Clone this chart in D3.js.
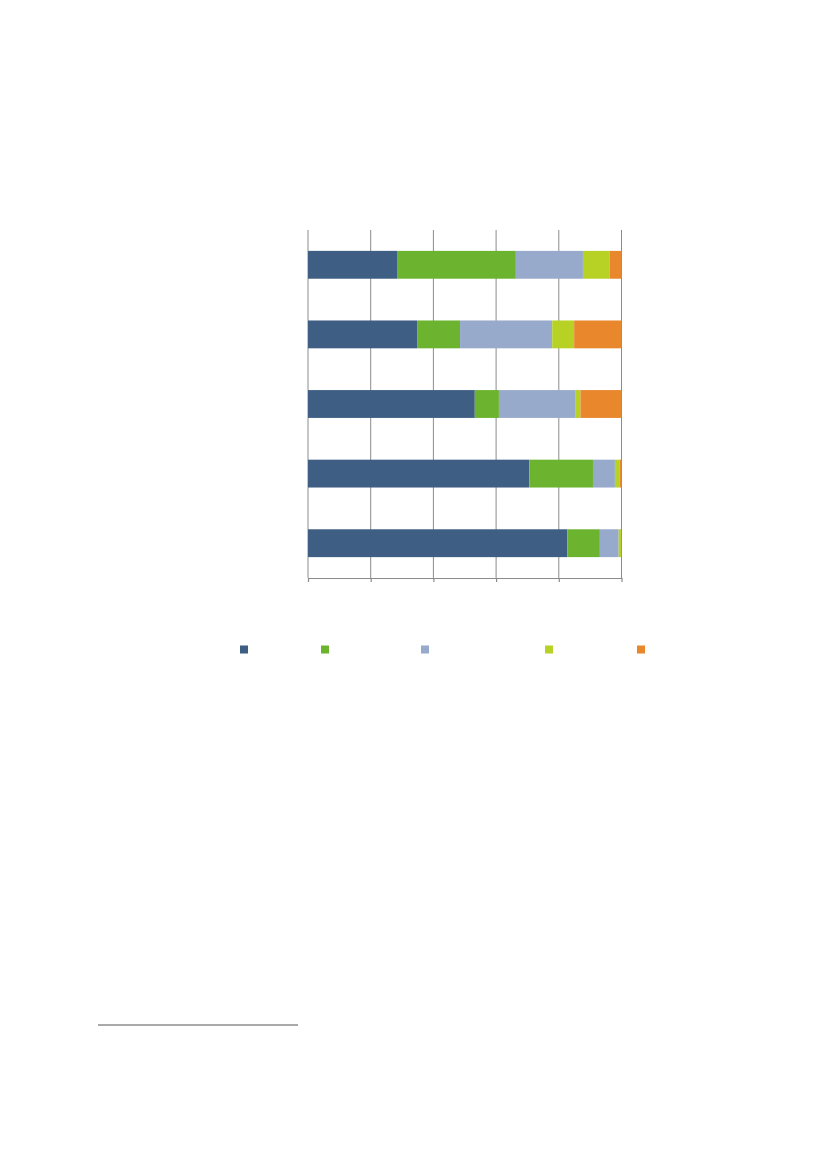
<!DOCTYPE html>
<html>
<head>
<meta charset="utf-8">
<script src="https://cdn.jsdelivr.net/npm/d3@7"></script>
<style>
  body { margin: 0; background: #fff; }
  svg { display: block; }
</style>
</head>
<body>
<div id="chart"></div>
<script>
// categories are not labelled in the picture, ids only
let categories = ["c1", "c2", "c3", "c4", "c5"];
let seriesKeys = ["s1", "s2", "s3", "s4", "s5"];
let colors = ["#3e5e84", "#6cb330", "#97aacb", "#b7d224", "#e8872c"];

// percentage share of each series per category
let s1 = [28.4, 34.8, 53.2, 70.6, 82.7];
let s2 = [37.9, 13.7, 7.7, 20.3, 10.4];
let s3 = [21.4, 29.4, 24.3, 7.0, 6.0];
let s4 = [8.5, 7.0, 1.7, 1.5, 0.8];
let s5 = [3.8, 15.1, 13.1, 0.6, 0.1];

let xTicks = [0, 20, 40, 60, 80, 100];

let svgWidth = 827;
let svgHeight = 1169;

let margin = { top: 230, left: 308 };
let width = 313.5;
let height = 348;

let svg = d3.select("#chart")
    .append("svg")
    .attr("width", svgWidth)
    .attr("height", svgHeight);

let chartGroup = svg.append("g")
    .attr("transform", `translate(${margin.left}, ${margin.top})`);

let rows = categories.map((c, i) => ({
    cat: c, s1: s1[i], s2: s2[i], s3: s3[i], s4: s4[i], s5: s5[i]
}));

let xScale = d3.scaleLinear().domain([0, 100]).range([0, width]);
let yScale = d3.scaleBand().domain(categories).range([0, height])
    .paddingInner(0.6).paddingOuter(0.3);
let color = d3.scaleOrdinal().domain(seriesKeys).range(colors);

// vertical gridlines
chartGroup.append("g")
    .selectAll("line")
    .data(xTicks)
    .enter()
    .append("line")
    .attr("x1", d => xScale(d))
    .attr("x2", d => xScale(d))
    .attr("y1", 0)
    .attr("y2", height)
    .attr("stroke", "#8c8c8c")
    .attr("stroke-width", 1);

let stacked = d3.stack().keys(seriesKeys)(rows);

chartGroup.append("g")
    .selectAll("g")
    .data(stacked)
    .enter()
    .append("g")
    .attr("fill", d => color(d.key))
    .selectAll("rect")
    .data(d => d)
    .enter()
    .append("rect")
    .attr("x", d => xScale(d[0]))
    .attr("width", d => xScale(d[1]) - xScale(d[0]))
    .attr("y", d => yScale(d.data.cat))
    .attr("height", yScale.bandwidth());

// bottom axis, tick marks only
let bottomAxis = d3.axisBottom(xScale).tickValues(xTicks).tickFormat("").tickSize(4).tickSizeOuter(0);
let axisG = chartGroup.append("g")
    .attr("transform", `translate(0, ${height})`)
    .call(bottomAxis);
axisG.selectAll("path, line").attr("stroke", "#8c8c8c").attr("stroke-width", 1.2);

// legend squares (labels absent in the reference)
let legendX = [244, 325, 425, 549, 641];
let legend = svg.append("g");
legend.selectAll("rect")
    .data(seriesKeys)
    .enter()
    .append("rect")
    .attr("x", (d, i) => legendX[i] - 4)
    .attr("y", 645.5)
    .attr("width", 8)
    .attr("height", 8)
    .attr("fill", d => color(d));

// footnote rule
svg.append("line")
    .attr("x1", 98)
    .attr("x2", 298)
    .attr("y1", 1025)
    .attr("y2", 1025)
    .attr("stroke", "#555")
    .attr("stroke-width", 1);
</script>
</body>
</html>
